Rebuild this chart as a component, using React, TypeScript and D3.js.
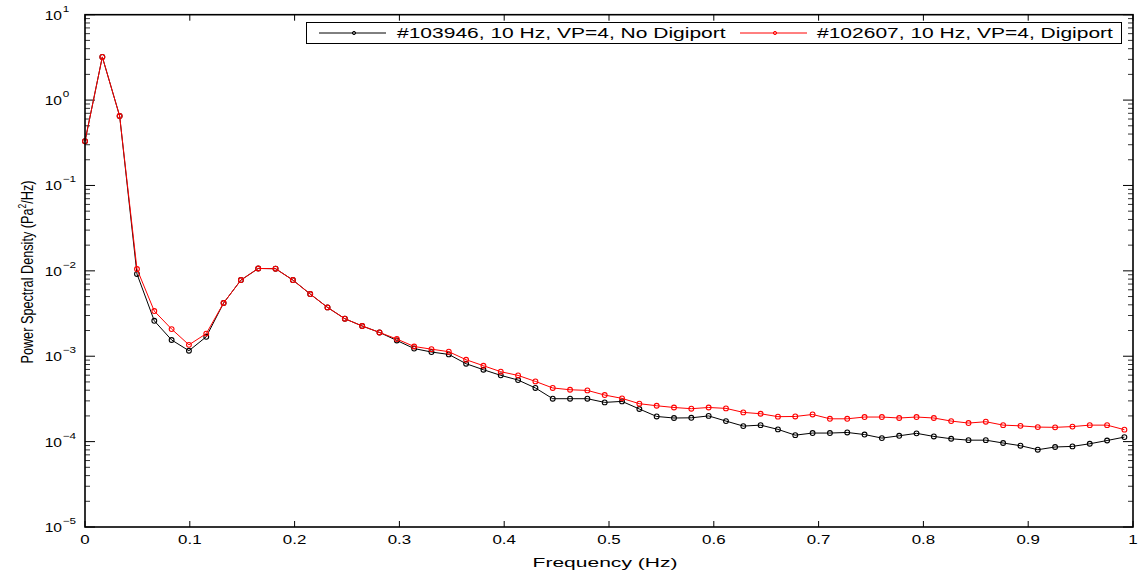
import React from "react";
import * as d3 from "d3";

const DF = 0.01653;
const blackValues = [0.33, 3.2, 0.65, 0.0092, 0.0026, 0.00155, 0.00116, 0.00169, 0.0042, 0.0078, 0.01066, 0.0106, 0.0078, 0.00535, 0.00373, 0.00275, 0.00226, 0.0019, 0.00153, 0.00123, 0.00112, 0.00105, 0.000817, 0.000695, 0.000597, 0.000526, 0.000425, 0.000318, 0.000318, 0.000318, 0.000288, 0.000296, 0.000241, 0.000197, 0.000189, 0.00019, 0.0002, 0.000174, 0.000152, 0.000156, 0.000139, 0.000119, 0.000126, 0.000126, 0.000128, 0.000121, 0.00011, 0.000117, 0.000125, 0.000115, 0.000108, 0.000104, 0.000104, 0.0000963, 0.0000896, 0.0000804, 0.0000865, 0.0000879, 0.0000944, 0.000103, 0.000113];
const redValues = [0.33, 3.2, 0.65, 0.0105, 0.00338, 0.00208, 0.00136, 0.00184, 0.0042, 0.0078, 0.01066, 0.0106, 0.0078, 0.00535, 0.00373, 0.00275, 0.00226, 0.0019, 0.00159, 0.0013, 0.00121, 0.00113, 0.00091, 0.000774, 0.000659, 0.000596, 0.000507, 0.000425, 0.000405, 0.000398, 0.000351, 0.000321, 0.000278, 0.000263, 0.000251, 0.000243, 0.000251, 0.000245, 0.00022, 0.000212, 0.000196, 0.000197, 0.000208, 0.000185, 0.000185, 0.000194, 0.000194, 0.000189, 0.000194, 0.000189, 0.000174, 0.000165, 0.000171, 0.000156, 0.000153, 0.000148, 0.000147, 0.00015, 0.000156, 0.000156, 0.000138];
const seriesNames = ["#103946, 10 Hz, VP=4, No Digiport", "#102607, 10 Hz, VP=4, Digiport"];
const seriesColors = ["#000000", "#ff0000"];
const xTicks = [0, 0.1, 0.2, 0.3, 0.4, 0.5, 0.6, 0.7, 0.8, 0.9, 1];
const yExponents = [1, 0, -1, -2, -3, -4, -5];

export default function App() {
  const W = 1141, H = 574;
  const L = 85, R = 1133, T = 14.7, B = 527;
  const x = d3.scaleLinear().domain([0, 1]).range([L, R]);
  const y = d3.scaleLog().domain([1e-5, 10]).range([B, T]);
  const font = "'Liberation Sans', Arial, Helvetica, sans-serif";
  const series = [blackValues, redValues];
  const line = d3.line<number>().x((_, i) => x(i * DF)).y((v) => y(v));

  const minor: number[] = [];
  for (let e = -5; e < 1; e++) for (let m = 2; m <= 9; m++) minor.push(m * Math.pow(10, e));

  return (
    <svg width={W} height={H} style={{ position: "absolute", left: 0, top: 0, background: "#fff" }}>
      <rect x={0} y={0} width={W} height={H} fill="#fff" />
      {xTicks.map((t) => (
        <g key={"xt" + t}>
          <line x1={x(t)} x2={x(t)} y1={B} y2={B - 6} stroke="#000" strokeWidth={1} />
          <line x1={x(t)} x2={x(t)} y1={T} y2={T + 6} stroke="#000" strokeWidth={1} />
          <g transform={`translate(${x(t)},544) scale(1.3,1)`}>
            <text x={0} y={0} textAnchor="middle" fontFamily={font} fontSize={13}>{String(t)}</text>
          </g>
        </g>
      ))}
      {yExponents.map((e) => {
        const v = Math.pow(10, e);
        return (
          <g key={"yt" + e}>
            <line x1={L} x2={L + 10} y1={y(v)} y2={y(v)} stroke="#000" strokeWidth={1} />
            <line x1={R} x2={R - 10} y1={y(v)} y2={y(v)} stroke="#000" strokeWidth={1} />
            <g transform={`translate(62,${y(v) + 5}) scale(1.3,1)`}>
              <text x={0} y={0} textAnchor="end" fontFamily={font} fontSize={12}>10</text>
              <text x={0.5} y={-8} textAnchor="start" fontFamily={font} fontSize={9}>{e < 0 ? "\u2212" + Math.abs(e) : String(e)}</text>
            </g>
          </g>
        );
      })}
      {minor.map((v, i) => (
        <g key={"mn" + i}>
          <line x1={L} x2={L + 5} y1={y(v)} y2={y(v)} stroke="#000" strokeWidth={0.8} />
          <line x1={R} x2={R - 5} y1={y(v)} y2={y(v)} stroke="#000" strokeWidth={0.8} />
        </g>
      ))}
      {series.map((vals, si) => (
        <g key={"s" + si}>
          <path d={line(vals) || ""} fill="none" stroke={seriesColors[si]} strokeWidth={1} />
          {vals.map((v, i) => (
            <circle key={i} cx={x(i * DF)} cy={y(v)} r={2.4} fill="none" stroke={seriesColors[si]} strokeWidth={1.1} />
          ))}
        </g>
      ))}
      <rect x={L} y={T} width={R - L} height={B - T} fill="none" stroke="#000" strokeWidth={1.6} />
      <rect x={306.5} y={22.5} width={815} height={21} fill="#fff" stroke="#000" strokeWidth={1} />
      {[0, 1].map((i) => {
        const lx = i === 0 ? 319 : 740;
        const tx = i === 0 ? 397 : 817;
        return (
          <g key={"lg" + i}>
            <line x1={lx} x2={lx + 67} y1={33} y2={33} stroke={seriesColors[i]} strokeWidth={1} />
            <circle cx={lx + 35} cy={33} r={1.6} fill="none" stroke={seriesColors[i]} strokeWidth={1} />
            <g transform={`translate(${tx},37.5) scale(1.41,1)`}>
              <text x={0} y={0} fontFamily={font} fontSize={14.9}>{seriesNames[i]}</text>
            </g>
          </g>
        );
      })}
      <g transform={`translate(605,566.5) scale(1.67,1)`}>
        <text x={0} y={0} textAnchor="middle" fontFamily={font} fontSize={12.6}>Frequency (Hz)</text>
      </g>
      <g transform={`translate(33,272) rotate(-90) scale(1,1.32)`}>
        <text x={0} y={0} textAnchor="middle" fontFamily={font} fontSize={12.7}>
          Power Spectral Density (Pa<tspan dy={-5} fontSize={8.5}>2</tspan><tspan dy={5}>/Hz)</tspan>
        </text>
      </g>
    </svg>
  );
}
